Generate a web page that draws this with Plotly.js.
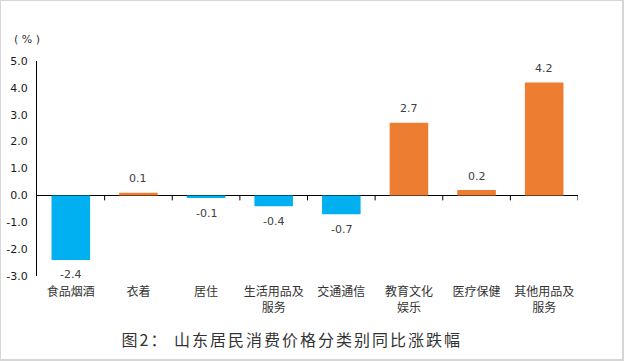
<!DOCTYPE html>
<html>
<head>
<meta charset="utf-8">
<script src="https://cdn.plot.ly/plotly-3.0.1.min.js"></script>
<style>
  html, body { margin: 0; padding: 0; background: #fff; }
  #wrap { width: 624px; height: 361px; box-sizing: border-box; border: 1px solid #d6d6d6; border-right-width: 2px; border-bottom-width: 2px; overflow: hidden; }
  #chart { width: 622px; height: 358px; }
  .gtitle { letter-spacing: 2px; }
</style>
</head>
<body>
<div id="wrap"><div id="chart"></div></div>
<script>
const categories = ["食品烟酒", "衣着", "居住", "生活用品及<br>服务", "交通通信", "教育文化<br>娱乐", "医疗保健", "其他用品及<br>服务"];
const values = [-2.4, 0.1, -0.1, -0.4, -0.7, 2.7, 0.2, 4.2];
const yTickVals = [-3, -2, -1, 0, 1, 2, 3, 4, 5];
const yTickText = ["-3.0", "-2.0", "-1.0", "0.0", "1.0", "2.0", "3.0", "4.0", "5.0"];
const unitLabel = "( % )";
const chartTitle = "图2：&nbsp;山东居民消费价格分类别同比涨跌幅";

const posColor = "#ED7D31";
const negColor = "#00B0F0";

const idx = categories.map((_, i) => i);

const trace = {
  type: "bar",
  x: idx,
  y: values,
  marker: { color: values.map(v => v >= 0 ? posColor : negColor) },
  hoverinfo: "none"
};

// small tick marks on the zero line at category boundaries
const shapes = idx.map(i => ({
  type: "line",
  xref: "x", yref: "y",
  x0: i + 0.5, x1: i + 0.5,
  ysizemode: "pixel", yanchor: 0,
  y0: 0, y1: -5,
  line: { color: "#000", width: 1 }
}));

// value labels, positioned from the data
const valueLabels = values.map((v, i) => ({
  xref: "x", yref: "y",
  x: i, y: v,
  text: v.toFixed(1),
  showarrow: false,
  xanchor: "center", yanchor: "middle",
  yshift: v >= 0 ? 14 : -15,
  font: { family: "DejaVu Sans", size: 11, color: "#404040" }
}));

const layout = {
  width: 622, height: 358,
  margin: { l: 36, r: 45, t: 60, b: 83 },
  paper_bgcolor: "#fff", plot_bgcolor: "#fff",
  showlegend: false,
  bargap: 0.43,
  font: { family: "Noto Sans CJK SC", color: "#333" },
  title: {
    text: chartTitle,
    font: { family: "Noto Sans CJK SC", size: 16, color: "#333" },
    x: 0.471, xanchor: "center", xref: "paper",
    y: 19 / 358, yanchor: "middle", yref: "container"
  },
  xaxis: {
    range: [-0.5, categories.length - 0.5],
    tickmode: "array", tickvals: idx, ticktext: categories,
    ticks: "outside", ticklen: 5, tickcolor: "rgba(0,0,0,0)",
    showline: false, showgrid: false, zeroline: false,
    tickfont: { family: "Noto Sans CJK SC", size: 12, color: "#333" },
    fixedrange: true
  },
  yaxis: {
    range: [-3, 5],
    tickmode: "array", tickvals: yTickVals, ticktext: yTickText,
    ticks: "outside", ticklen: 6, tickcolor: "rgba(0,0,0,0)",
    showline: true, linecolor: "#000", linewidth: 1,
    showgrid: false,
    zeroline: true, zerolinecolor: "#000", zerolinewidth: 1,
    tickfont: { family: "DejaVu Sans", size: 11, color: "#1a1a1a" },
    fixedrange: true
  },
  shapes: shapes,
  annotations: valueLabels.concat([{
    text: unitLabel,
    xref: "paper", yref: "paper",
    x: -0.046, y: 1.0, xanchor: "left", yanchor: "middle",
    yshift: 22,
    showarrow: false,
    font: { family: "DejaVu Sans", size: 11, color: "#333" }
  }])
};

Plotly.newPlot("chart", [trace], layout, { displayModeBar: false, staticPlot: true });
</script>
</body>
</html>
